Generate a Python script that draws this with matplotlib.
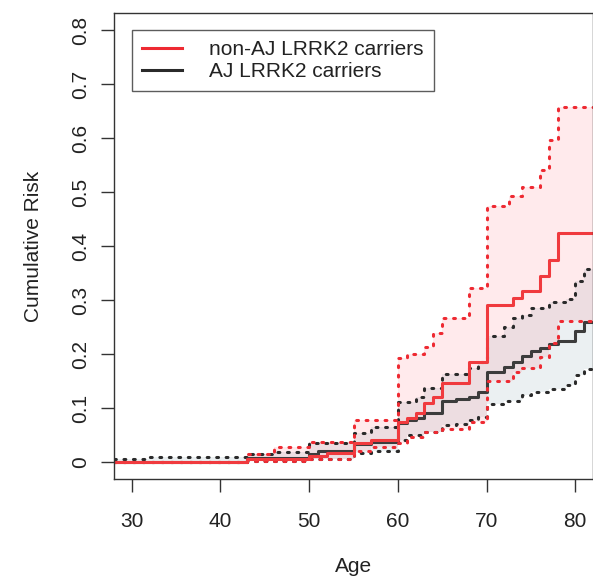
import matplotlib
matplotlib.use("Agg")
import matplotlib.pyplot as plt
import numpy as np

plt.rcParams["font.family"] = ["Liberation Sans", "DejaVu Sans"]

# shared age grid (step breakpoints, step='post')
ages = [28, 32, 43, 46, 50, 51, 52, 55, 57, 60, 61, 62, 63, 64, 65, 66.5, 68, 69, 70,
        72, 72.5, 73, 74, 75, 76, 77, 78, 79, 80, 81, 82]

# non-AJ LRRK2 carriers: estimate and 95% band
nonaj_est = [0, 0, 0.006, 0.006, 0.011, 0.011, 0.016, 0.036, 0.041, 0.074, 0.081, 0.09, 0.11, 0.12,
             0.146, 0.146, 0.186, 0.186, 0.291, 0.291, 0.291, 0.304, 0.316, 0.316, 0.345, 0.375,
             0.425, 0.425, 0.425, 0.425, 0.425]
nonaj_upper = [0, 0, 0.015, 0.028, 0.038, 0.038, 0.038, 0.077, 0.077, 0.193, 0.2, 0.2, 0.214, 0.239,
               0.267, 0.267, 0.323, 0.323, 0.475, 0.475, 0.492, 0.492, 0.51, 0.51, 0.541, 0.597,
               0.657, 0.657, 0.657, 0.657, 0.657]
nonaj_lower = [0, 0, 0.002, 0.002, 0.006, 0.006, 0.006, 0.02, 0.027, 0.036, 0.046, 0.046, 0.056, 0.056,
               0.062, 0.062, 0.075, 0.075, 0.151, 0.151, 0.151, 0.166, 0.175, 0.175, 0.195, 0.221,
               0.262, 0.262, 0.262, 0.262, 0.262]

# AJ LRRK2 carriers: estimate and 95% band
aj_est = [0, 0, 0.008, 0.008, 0.014, 0.02, 0.02, 0.033, 0.038, 0.072, 0.077, 0.081, 0.091, 0.091,
          0.114, 0.117, 0.121, 0.129, 0.166, 0.177, 0.177, 0.186, 0.196, 0.205, 0.212, 0.219,
          0.225, 0.225, 0.243, 0.26, 0.26]
aj_upper = [0.005, 0.009, 0.015, 0.019, 0.035, 0.035, 0.035, 0.054, 0.065, 0.111, 0.111, 0.12, 0.137,
            0.137, 0.164, 0.164, 0.174, 0.186, 0.234, 0.25, 0.25, 0.266, 0.272, 0.286, 0.286, 0.297,
            0.297, 0.302, 0.336, 0.357, 0.357]
aj_lower = [0, 0, 0.002, 0.002, 0.006, 0.006, 0.006, 0.016, 0.02, 0.04, 0.05, 0.05, 0.056, 0.056,
            0.068, 0.071, 0.077, 0.083, 0.107, 0.114, 0.114, 0.114, 0.125, 0.13, 0.13, 0.136,
            0.136, 0.142, 0.161, 0.172, 0.172]

x_ticks = [30, 40, 50, 60, 70, 80]
y_ticks = [0, 0.1, 0.2, 0.3, 0.4, 0.5, 0.6, 0.7, 0.8]
y_labels = ["0", "0.1", "0.2", "0.3", "0.4", "0.5", "0.6", "0.7", "0.8"]

RED = "#ee2a32"
DARK = "#2a2a2a"
dotted = (0, (0.6, 2.5))

fig = plt.figure(figsize=(5.93, 5.80), dpi=100)
ax = fig.add_axes([114 / 593, 1 - 479.3 / 580, 479 / 593, (479.3 - 13) / 580])

ax.fill_between(ages, aj_lower, aj_upper, step="post", color="#9db4c0", alpha=0.2, linewidth=0)
ax.fill_between(ages, nonaj_lower, nonaj_upper, step="post", color="#ff6b7a", alpha=0.14, linewidth=0)

ax.step(ages, aj_upper, where="post", color=DARK, lw=2.2, linestyle=dotted, dash_capstyle="round")
ax.step(ages, aj_lower, where="post", color=DARK, lw=2.2, linestyle=dotted, dash_capstyle="round")
ax.step(ages, aj_est, where="post", color="#3c3c3c", lw=2.2)

ax.step(ages, nonaj_upper, where="post", color=RED, lw=2.2, linestyle=dotted, dash_capstyle="round")
ax.step(ages, nonaj_lower, where="post", color=RED, lw=2.2, linestyle=dotted, dash_capstyle="round")
ax.step(ages, nonaj_est, where="post", color="#f03a3e", lw=2.2)

ax.set_xlim(28, 82)
ax.set_ylim(-0.032, 0.832)
ax.set_xticks(x_ticks)
ax.set_yticks(y_ticks)
ax.set_yticklabels(y_labels, rotation=90, va="center")
ax.tick_params(axis="both", length=9.5, width=1.0, color="#333333", labelsize=15,
               labelcolor="#222222")
ax.tick_params(axis="x", pad=14)
ax.tick_params(axis="y", pad=8)
for spine in ax.spines.values():
    spine.set_color("#333333")
    spine.set_linewidth(1.0)

ax.set_xlabel("Age", fontsize=15, color="#222222", labelpad=19)
ax.set_ylabel("Cumulative Risk", fontsize=15, color="#222222", labelpad=20)

handles = [
    plt.Line2D([], [], color=RED, lw=2.2),
    plt.Line2D([], [], color=DARK, lw=2.2),
]
leg = ax.legend(handles, ["non-AJ LRRK2 carriers", "AJ LRRK2 carriers"], loc="upper left",
                bbox_to_anchor=(18 / 479, 1 - 17 / 466.3), fontsize=15, frameon=True,
                fancybox=False, edgecolor="#333333", handlelength=1.9, handletextpad=1.3,
                borderpad=0.5, labelspacing=0.12, borderaxespad=0)
leg.get_frame().set_linewidth(1.0)
for t in leg.get_texts():
    t.set_color("#222222")

fig.savefig("out.png", dpi=100)
